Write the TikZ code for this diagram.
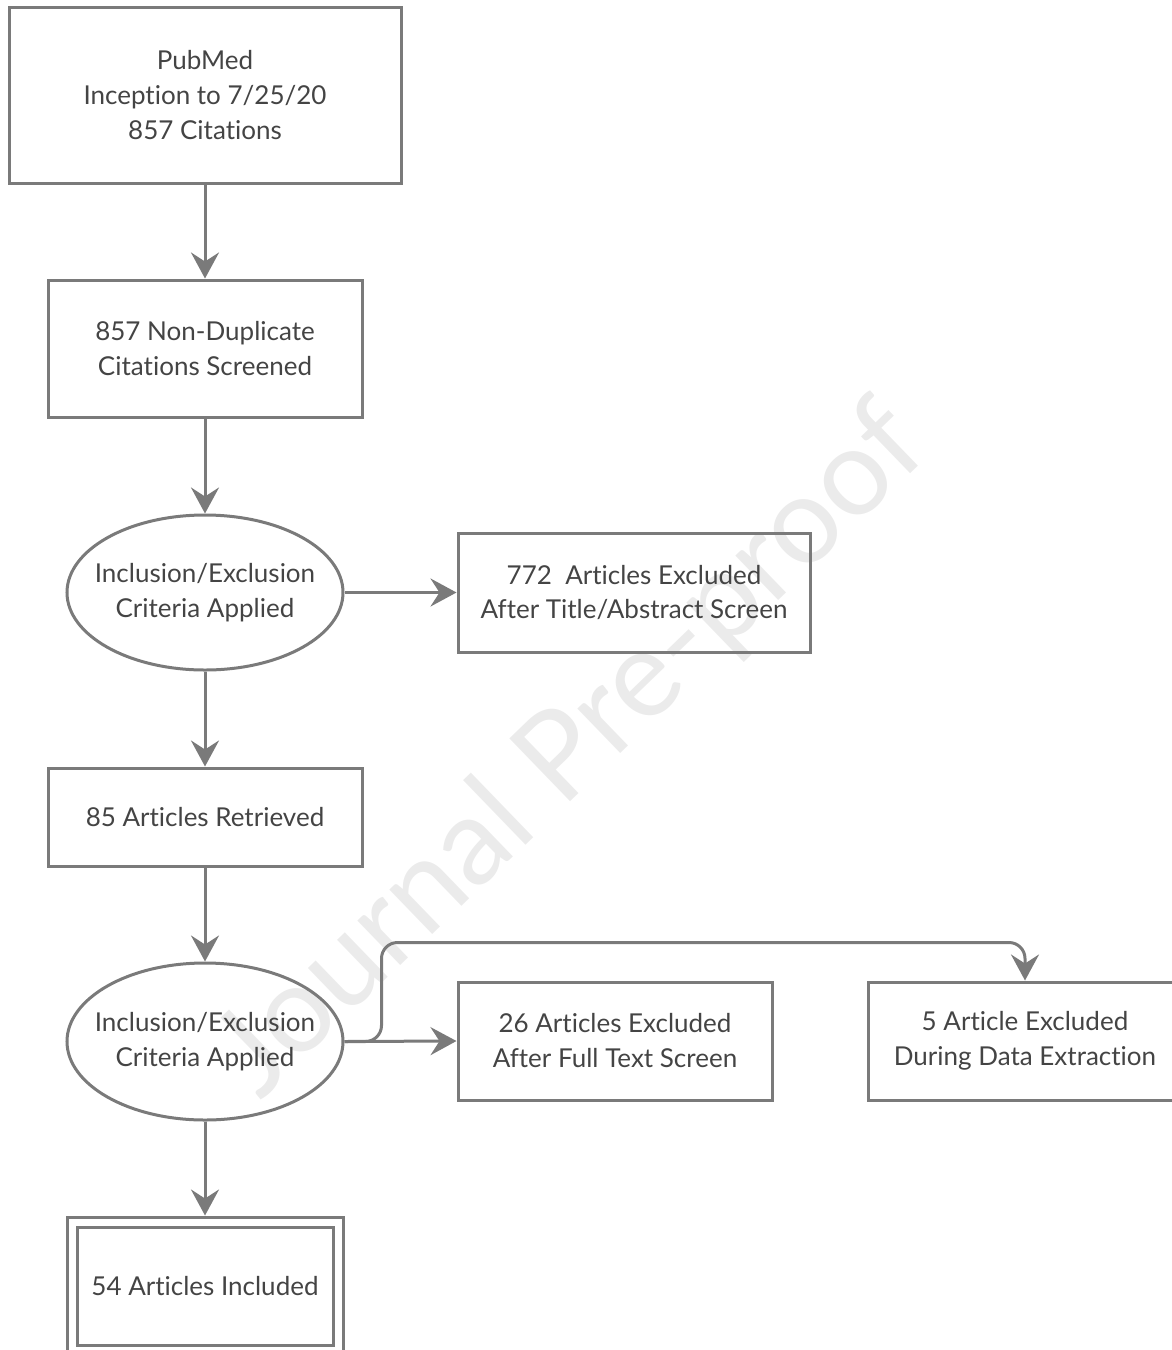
\documentclass[tikz,border=0pt]{standalone}
\usepackage{fontspec}
\setmainfont{Lato}[Ligatures=NoCommon]
\usetikzlibrary{arrows.meta,calc,shapes.geometric}
\definecolor{linegray}{HTML}{7A7A7A}
\definecolor{textgray}{HTML}{444444}
\definecolor{wmgray}{HTML}{EBEBEB}
\tikzset{
  txt/.style={text=textgray, align=center, font=\fontsize{26}{35}\selectfont},
  box/.style={draw=linegray, line width=3pt, rectangle, inner sep=0pt, txt},
  oval/.style={draw=linegray, line width=3pt, ellipse, inner sep=0pt},
  arr/.style={draw=linegray, line width=3pt, -{Stealth[length=26pt,width=28pt,inset=9pt]}},
}
\begin{document}
\begin{tikzpicture}[x=1pt,y=-1pt]
\useasboundingbox (0,0) rectangle (1172,1350);
\node[rotate=44, text=wmgray, font=\fontsize{122}{122}\selectfont] (wm) at (572,752) {Journal Pre-proof};
\node[box, minimum width=392pt, minimum height=176pt] (b1) at (205,95) {PubMed\\Inception to 7/25/20\\857 Citations};
\node[box, minimum width=314pt, minimum height=137pt] (b2) at (205,348.5) {857 Non-Duplicate\\Citations Screened};
\node[oval, minimum width=276pt, minimum height=155pt, label={[txt]center:Inclusion/Exclusion\\Criteria Applied}] (e1) at (205,592.5) {};
\node[box, minimum width=352pt, minimum height=119pt] (b3) at (634,592.5) {772\ \ Articles Excluded\\After Title/Abstract\ Screen};
\node[box, minimum width=314pt, minimum height=98pt] (b4) at (205,817) {85 Articles Retrieved};
\node[oval, minimum width=276pt, minimum height=157pt, label={[txt]center:Inclusion/Exclusion\\Criteria Applied}] (e2) at (205,1041.5) {};
\node[box, minimum width=314pt, minimum height=118pt] (b5) at (615,1041) {26 Articles Excluded\\After Full Text\ Screen};
\node[box, minimum width=314pt, minimum height=118pt] (b6) at (1025,1041) {5 Article Excluded\\During Data Extraction};
\node[box, minimum width=276pt, minimum height=150pt] (b7o) at (205,1292) {};
\node[box, minimum width=256pt, minimum height=118pt] (b7) at (205,1286) {54 Articles Included};
\draw[arr] (b1.south) -- (b2.north);
\draw[arr] (b2.south) -- (e1.north);
\draw[arr] (e1.east) -- (b3.west);
\draw[arr] (e1.south) -- (b4.north);
\draw[arr] (b4.south) -- (e2.north);
\draw[arr] (e2.east) -- (b5.west);
\draw[arr, rounded corners=16pt] (e2.east) -- ++(37,0) |- ($(b6.north)+(0,-38)$) -- (b6.north);
\draw[arr] (e2.south) -- (b7o.north);
\end{tikzpicture}
\end{document}
